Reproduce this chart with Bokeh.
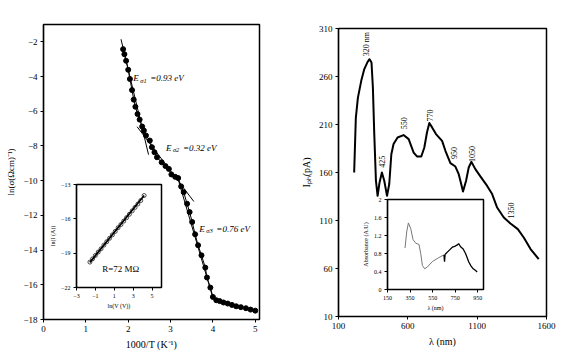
import math
from bokeh.plotting import figure
from bokeh.models import Column, FixedTicker
from bokeh.core.properties import value
from bokeh.embed import file_html
from bokeh.resources import INLINE

SERIF = "Liberation Serif"

# ---------------- left panel data ----------------
inv_T = [1.88, 1.91, 1.95, 2.00, 2.04, 2.09, 2.13, 2.17, 2.22, 2.27, 2.33, 2.37, 2.42, 2.51,
         2.56, 2.62, 2.68, 2.79, 2.88, 2.96, 3.02, 3.11, 3.18, 3.25, 3.31, 3.39, 3.45, 3.51,
         3.58, 3.65, 3.73, 3.82, 3.86, 3.94, 4.00, 4.08, 4.16, 4.25, 4.35, 4.45, 4.55, 4.66,
         4.78, 4.89, 5.00]
ln_sigma = [-2.42, -2.71, -3.09, -3.61, -4.14, -4.78, -5.33, -5.74, -6.16, -6.48, -6.88, -7.11,
            -7.40, -7.69, -8.07, -8.36, -8.65, -8.94, -9.16, -9.32, -9.64, -9.78, -9.85, -10.33,
            -10.66, -11.33, -11.81, -12.38, -13.09, -13.72, -14.30, -15.01, -15.58, -16.16,
            -16.70, -16.89, -16.94, -17.02, -17.08, -17.16, -17.24, -17.29, -17.35, -17.43, -17.49]
fit1_x = [1.83, 2.48]
fit1_y = [-1.85, -8.50]
fit2_x = [2.21, 3.55]
fit2_y = [-6.89, -11.20]
fit3_x = [3.20, 4.00]
fit3_y = [-10.10, -16.75]
ea_subs = ["\u03c31", "\u03c32", "\u03c33"]
ea_values = ["=0.93 eV", "=0.32 eV", "=0.76 eV"]
ea_x = [2.12, 2.89, 3.68]
ea_y = [-4.10, -8.10, -12.76]

# left inset (I-V)
lnV = [-1.58, -1.30, -1.00, -0.70, -0.40, -0.10, 0.20, 0.50, 0.80, 1.10, 1.40, 1.70, 2.00,
       2.30, 2.60, 2.90, 3.20, 3.50, 3.80, 4.16]
lnI = [-19.78, -19.50, -19.20, -18.90, -18.62, -18.30, -18.00, -17.70, -17.40, -17.10, -16.78,
       -16.50, -16.20, -15.90, -15.60, -15.30, -15.00, -14.70, -14.40, -13.96]
fitIV_x = [-1.58, 4.16]
fitIV_y = [-19.80, -13.96]

# ---------------- right panel data ----------------
wl = [213, 225, 240, 264, 286, 310, 324, 338, 348, 358, 370, 382, 396, 413, 430, 450, 466,
      481, 497, 526, 569, 606, 642, 666, 697, 719, 738, 755, 775, 803, 847, 871, 907, 943,
      967, 979, 998, 1020, 1039, 1058, 1087, 1123, 1172, 1208, 1244, 1292, 1340, 1393, 1436,
      1485, 1544]
iph = [160, 217, 238, 255.5, 267.7, 275.3, 278, 274.6, 248.5, 200, 151.4, 135.7, 149.6, 160,
       151.4, 135.7, 148, 179, 189.6, 196.5, 199, 194.8, 180.8, 176.7, 176.7, 186, 201.7, 211.5,
       207, 200, 193, 182.6, 169.8, 166.2, 158.3, 151.4, 140.2, 151.4, 165.2, 171.1, 163.5,
       156, 146, 137.5, 123.5, 113.1, 106.9, 101, 92.3, 80.2, 69.8]
peak_labels = ["320 nm", "425", "550", "770", "950", "1050", "1350"]
peak_x = [303, 413, 574, 757, 930, 1063, 1347]
peak_y = [281, 165, 205, 213, 174, 171, 112]

# right inset (absorbance)
abs_uv_x = [305, 320, 335, 356, 376, 400, 429, 444, 459, 479, 503, 547, 605, 650]
abs_uv_y = [0.92, 1.28, 1.48, 1.35, 1.11, 1.03, 1.00, 0.80, 0.535, 0.46, 0.50, 0.62, 0.71, 0.77]
abs_vis_x = [650, 655, 660, 668, 680, 700, 724, 745, 768, 780, 797, 820, 841, 870, 890, 909, 930, 944]
abs_vis_y = [0.77, 0.62, 0.78, 0.80, 0.83, 0.88, 0.94, 0.96, 0.99, 1.02, 0.95, 0.90, 0.80, 0.61, 0.52, 0.46, 0.42, 0.39]

BL = 56  # generous left border so the frame position is predictable


def style(p, tick_size="9px", label_size="10px"):
    p.outline_line_color = "black"
    p.outline_line_width = 1.5
    p.xgrid.visible = False
    p.ygrid.visible = False
    p.background_fill_color = "white"
    p.border_fill_alpha = 0
    for ax in (p.xaxis[0], p.yaxis[0]):
        ax.axis_line_color = "black"
        ax.axis_line_width = 1.2
        ax.major_tick_line_color = "black"
        ax.major_tick_in = 0
        ax.major_tick_out = 3
        ax.minor_tick_line_color = None
        ax.major_label_text_font = SERIF
        ax.major_label_text_font_size = tick_size
        ax.major_label_text_color = "black"
        ax.axis_label_text_font = SERIF
        ax.axis_label_text_font_size = label_size
        ax.axis_label_text_font_style = "normal"
        ax.axis_label_text_color = "black"
        ax.major_label_standoff = 3
        ax.axis_label_standoff = 4


def place(p, frame_left, frame_top):
    p.styles = {"position": "absolute", "left": f"{frame_left - BL}px", "top": f"{frame_top - 10}px"}


# ---------- left main ----------
pl = figure(frame_width=216, frame_height=295, x_range=(0, 5.1), y_range=(-18, -1),
            output_backend="svg", toolbar_location=None,
            min_border_left=BL, min_border_right=8, min_border_top=10, min_border_bottom=45,
            x_axis_label="1000/T (K\u207b\u00b9)", y_axis_label="ln(\u03c3(\u03a9cm)\u207b\u00b9)")
style(pl)
pl.xaxis.ticker = FixedTicker(ticks=[0, 1, 2, 3, 4, 5])
pl.yaxis.ticker = FixedTicker(ticks=list(range(-18, -1, 2)))
pl.yaxis.axis_label_text_font_size = "9px"
pl.line(inv_T, ln_sigma, line_color="black", line_width=1)
pl.scatter(inv_T, ln_sigma, size=5, fill_color="black", line_color="black")
for fx, fy in ((fit1_x, fit1_y), (fit2_x, fit2_y), (fit3_x, fit3_y)):
    pl.line(fx, fy, line_color="black", line_width=1)
pl.text(ea_x, ea_y, text=["E"] * 3, text_font=value(SERIF), text_font_style="italic",
        text_font_size="9px", text_baseline="middle", text_align="left", text_color="black")
pl.text(ea_x, ea_y, text=ea_subs, x_offset=7, y_offset=2, text_font=value(SERIF),
        text_font_style="italic", text_font_size="6.5px", text_baseline="middle",
        text_align="left", text_color="black")
pl.text(ea_x, ea_y, text=ea_values, x_offset=17, text_font=value(SERIF), text_font_style="italic",
        text_font_size="9px", text_baseline="middle", text_align="left", text_color="black")
place(pl, 43, 24)

# ---------- left inset ----------
pli = figure(frame_width=85, frame_height=103, x_range=(-3, 6), y_range=(-22, -13),
             output_backend="svg", toolbar_location=None,
             min_border_left=BL, min_border_right=4, min_border_top=10, min_border_bottom=35,
             x_axis_label="ln(V (V))", y_axis_label="ln(I (A))")
style(pli, tick_size="6px", label_size="6px")
pli.xaxis.ticker = FixedTicker(ticks=[-3, -1, 1, 3, 5])
pli.yaxis.ticker = FixedTicker(ticks=[-22, -19, -16, -13])
pli.xaxis.axis_label_standoff = 2
pli.yaxis.axis_label_standoff = 2
pli.line(fitIV_x, fitIV_y, line_color="black", line_width=1.8)
pli.scatter(lnV, lnI, size=4, fill_color="white", fill_alpha=0.0, line_color="black", line_width=0.7)
pli.text([1.68], [-20.4], text=["R=72 M\u03a9"], text_font=value(SERIF), text_font_size="9px",
         text_baseline="middle", text_align="center", text_color="black")
place(pli, 76, 184)

# ---------- right main ----------
pr = figure(frame_width=208, frame_height=288, x_range=(100, 1600), y_range=(10, 310),
            output_backend="svg", toolbar_location=None,
            min_border_left=BL, min_border_right=15, min_border_top=10, min_border_bottom=45,
            x_axis_label="\u03bb (nm)", y_axis_label="I\u209a\u2095(pA)")
style(pr)
pr.xaxis.ticker = FixedTicker(ticks=[100, 600, 1100, 1600])
pr.yaxis.ticker = FixedTicker(ticks=list(range(10, 311, 50)))
pr.line(wl, iph, line_color="black", line_width=2, line_join="round")
pr.text(peak_x, peak_y, text=peak_labels, angle=math.pi / 2, text_font=value(SERIF),
        text_font_size="8px", text_baseline="middle", text_align="left", text_color="black")
place(pr, 338, 28)

# ---------- right inset ----------
pri = figure(frame_width=96, frame_height=90, x_range=(150, 1000), y_range=(0, 2),
             output_backend="svg", toolbar_location=None,
             min_border_left=BL, min_border_right=6, min_border_top=10, min_border_bottom=35,
             x_axis_label="\u03bb (nm)", y_axis_label="Absorbance (A.U)")
style(pri, tick_size="6px", label_size="6px")
pri.xaxis.ticker = FixedTicker(ticks=[150, 350, 550, 750, 950])
pri.yaxis.ticker = FixedTicker(ticks=[0, 0.4, 0.8, 1.2, 1.6, 2])
pri.yaxis.major_label_overrides = {0: "0", 2: "2"}
pri.xaxis.axis_label_standoff = 2
pri.yaxis.axis_label_standoff = 2
pri.line(abs_uv_x, abs_uv_y, line_color="#777777", line_width=1)
pri.line(abs_vis_x, abs_vis_y, line_color="black", line_width=1.3)
place(pri, 387, 199)

root = Column(children=[pl, pr, pli, pri], width=567, height=352, sizing_mode="fixed",
              styles={"position": "relative"})

open("out.html", "w").write(file_html(root, INLINE))
